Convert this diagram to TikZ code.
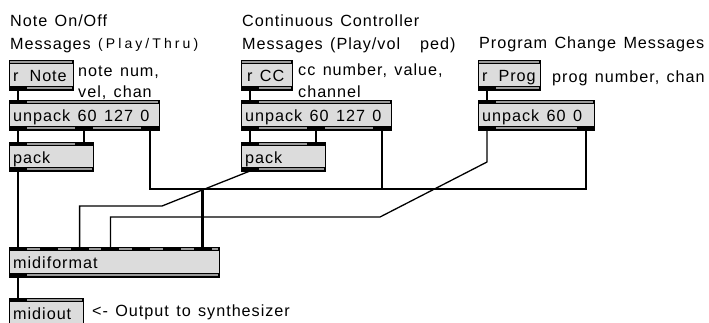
\documentclass[tikz,border=0pt]{standalone}
\usepackage{fontspec}
\setmainfont{Liberation Sans}[LetterSpace=6, WordSpace=1.35]
\newfontfamily\widefont{Liberation Sans}[LetterSpace=22, WordSpace=1.35]
\usetikzlibrary{calc}

\definecolor{boxfill}{HTML}{DCDCDC}
\definecolor{bandgrey}{HTML}{9A9A9A}

\tikzset{
  wire/.style={line width=1.3pt, black, line join=miter},
  txt/.style={anchor=base west, inner sep=0pt, font=\fontsize{16.2}{18}\selectfont},
  objframe/.style={draw=none, inner sep=0pt, anchor=north west},
}

% \maxobj{name}{x1}{y1}{x2}{y2}{label}{inlet offsets}{outlet offsets}
\newcommand\maxobj[8]{%
  \node[objframe, minimum width={(#4-#2)*1pt}, minimum height={(#5-#3)*1pt}] (#1) at (#2,#3) {};
  \fill[boxfill] (#2,#3) rectangle (#4,#5);
  % inlet band
  \fill[black] (#2,#3) rectangle (#4,#3+4);
  \draw[bandgrey, line width=1.4pt] (#2+1,#3+2) -- (#4-1,#3+2);
  \def\maxin{#7}%
  \ifx\maxin\empty\else
    \foreach \p [count=\i from 0] in {#7} {
      \fill[black] (#2+\p,#3) rectangle ++(18,4);
      \coordinate (#1-in\i) at ({#2+\p+9},#3);
    }
  \fi
  % outlet band
  \fill[black] (#2,#5-4) rectangle (#4,#5);
  \draw[bandgrey, line width=1.4pt] (#2+1,#5-2) -- (#4-1,#5-2);
  \def\maxout{#8}%
  \ifx\maxout\empty\else
    \foreach \p [count=\i from 0] in {#8} {
      \fill[black] (#2+\p,#5-4) rectangle ++(18,4);
      \coordinate (#1-out\i) at ({#2+\p+9},#5);
    }
  \fi
  \draw[black, line width=1pt] (#2,#3) rectangle (#4,#5);
  \node[txt] (#1-label) at (#2+4,#3+21) {#6};
}

\begin{document}
\begin{tikzpicture}[x=1pt,y=-1pt]
\clip (0,0) rectangle (709,322);
\fill[white] (0,0) rectangle (709,322);

% headings
\node[txt] (headA1) at (10,26) {Note On/Off};
\node[txt] (headA2) at (10,49) {Messages};
\node[txt, font=\fontsize{14}{15}\widefont] (headA3) at (98,48) {(Play/Thru)};
\node[txt] (headB1) at (242,26) {Continuous Controller};
\node[txt] (headB2) at (242,49) {Messages (Play/vol\hspace{20pt}ped)};
\node[txt] (headC) at (479,48) {Program Change Messages};

% comments
\node[txt] (noteA1) at (78,76) {note num,};
\node[txt] (noteA2) at (78,97) {vel, chan};
\node[txt] (noteB1) at (298,75) {cc number, value,};
\node[txt] (noteB2) at (298,97) {channel};
\node[txt] (noteC) at (552,82) {prog number, chan};
\node[txt] (noteOut) at (92,316) {<- Output to synthesizer};

% objects
\maxobj{rnote}{9}{60}{73}{90}{r\hspace{11pt}Note}{}{0}
\maxobj{unpackA}{9}{100}{159}{130}{unpack 60 127 0}{0}{0,66,132}
\maxobj{packA}{9}{142}{93}{171}{pack}{0,66}{0}
\maxobj{rcc}{241}{60}{292}{90}{\hspace{2pt}r CC}{}{0}
\maxobj{unpackB}{241}{100}{391}{130}{unpack 60 127 0}{0}{0,66,132}
\maxobj{packB}{241}{142}{325}{171}{pack}{0,66}{0}
\maxobj{rprog}{478}{60}{540}{90}{r\hspace{11pt}Prog}{}{0}
\maxobj{unpackC}{478}{100}{594}{130}{unpack 60 0}{0}{0,99}
\maxobj{mfmt}{9}{247}{219}{277}{midiformat}{0,30.8,61.6,92.4,123.2,154,184.8}{0}
\maxobj{mout}{9}{298}{83}{332}{midiout}{0}{}

% bus heights
\coordinate (chanbus) at (0,189);
\coordinate (ccbus) at (0,206);
\coordinate (pgbus) at (0,217);

% patch cords
\draw[wire] (rnote-out0) -- (unpackA-in0);
\draw[wire] (unpackA-out0) -- (packA-in0);
\draw[wire] (unpackA-out1) -- (packA-in1);
\draw[wire] (rcc-out0) -- (unpackB-in0);
\draw[wire] (unpackB-out0) -- (packB-in0);
\draw[wire] (unpackB-out1) -- (packB-in1);
\draw[wire] (rprog-out0) -- (unpackC-in0);

\draw[wire] (packA-out0) -- (mfmt-in0);
\draw[wire] (packB-out0) -- (162,206) -- (mfmt-in2 |- ccbus) -- (mfmt-in2);
\draw[wire] (unpackC-out0) -- (487,162) -- (380,217) -- (mfmt-in3 |- pgbus) -- (mfmt-in3);

\draw[wire] (unpackA-out2) |- ([xshift=-0.7pt]mfmt-in6 |- chanbus) -- ([xshift=-0.7pt]mfmt-in6);
\draw[wire] (unpackB-out2) |- (mfmt-in6 |- chanbus) -- (mfmt-in6);
\draw[wire] (unpackC-out1) |- ([xshift=0.7pt]mfmt-in6 |- chanbus) -- ([xshift=0.7pt]mfmt-in6);

\draw[wire] (mfmt-out0) -- (mout-in0);
\end{tikzpicture}
\end{document}
